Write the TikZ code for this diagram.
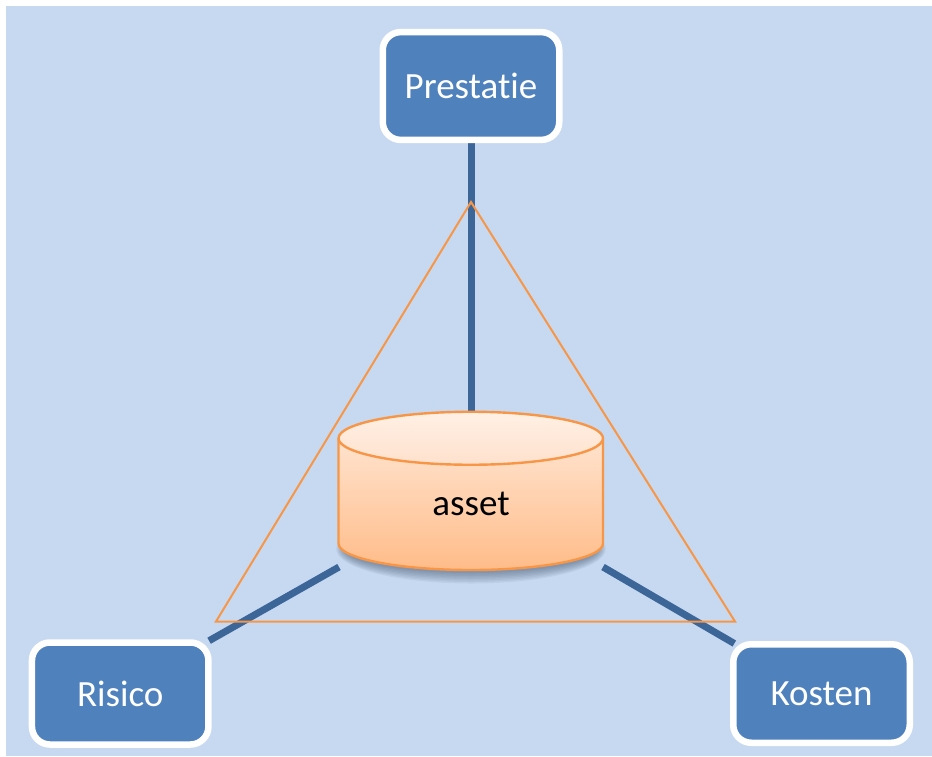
\documentclass[tikz,border=0pt]{standalone}
\usepackage{fontspec}
\usetikzlibrary{backgrounds}
\setmainfont[Ligatures=NoCommon]{Carlito}
\definecolor{bgblue}{HTML}{C6D9F1}
\definecolor{boxblue}{HTML}{4F81BD}
\definecolor{linkblue}{HTML}{3D6698}
\definecolor{edgeorange}{HTML}{F79646}
\definecolor{bodytop}{HTML}{FFE3CE}
\definecolor{bodybottom}{HTML}{FFBC89}
\definecolor{lidtop}{HTML}{FFF0E5}
\definecolor{lidbottom}{HTML}{FFE1CD}
\definecolor{shadowtone}{HTML}{30405A}
\tikzset{
  corner/.style={draw=white,line width=6.5pt,fill=boxblue,rounded corners=18pt,text=white,
    font=\fontsize{37}{44}\selectfont,minimum width=176.5pt,inner sep=0pt},
  link/.style={draw=linkblue,line width=7pt},
  edge/.style={draw=edgeorange,line width=2pt,line join=miter},
  shadowlayer/.style={fill=shadowtone,fill opacity=0.065,draw=none}
}
\begin{document}
\begin{tikzpicture}[x=1pt,y=-1pt]
\useasboundingbox (0,0) rectangle (932,756);
% named points of the cylinder
\coordinate (assettop) at (471,412);
\coordinate (assetleft) at (339,567);
\coordinate (assetright) at (603,567);
% boxes
\node[corner,minimum height=107.8pt] (prestatie) at (471,86) {Prestatie};
\node[corner,minimum height=102pt] (risico) at (120.2,693.5) {Risico};
\node[corner,minimum height=98.5pt] (kosten) at (821.5,693.5) {Kosten};
% background and connectors, under the boxes
\begin{scope}[on background layer]
\fill[bgblue] (6,6) rectangle (932,756);
\draw[link] (prestatie.south) -- (assettop);
\draw[link,shorten >=-3pt] (assetleft) -- (risico.north east);
\draw[link,shorten >=-5pt] (assetright) -- (kosten.north west);
\end{scope}
% triangle
\coordinate (apex) at (471,202);
\coordinate (baseleft) at (216,621.5);
\coordinate (baseright) at (735,621.5);
\draw[edge] (apex) -- (baseleft) -- (baseright) -- cycle;
% cylinder shadow
\foreach \g in {1,...,8}{
  \fill[shadowlayer] (471,549) ellipse [x radius=136-\g*1.2,y radius=36-\g*1.5];
}
% cylinder body
\shade[top color=bodytop,bottom color=bodybottom]
  (338.5,438) -- (338.5,543.5) arc [start angle=180,end angle=0,x radius=132.25,y radius=26.5]
  -- (603,438) arc [start angle=0,end angle=180,x radius=132.25,y radius=26.5] -- cycle;
\draw[edge,line width=2.4pt]
  (338.5,438) -- (338.5,543.5) arc [start angle=180,end angle=0,x radius=132.25,y radius=26.5]
  -- (603,438);
\shade[top color=lidtop,bottom color=lidbottom]
  (470.75,438.25) ellipse [x radius=132.25,y radius=26.5];
\draw[edge,line width=2.4pt] (470.75,438.25) ellipse [x radius=132.25,y radius=26.5];
\node[font=\fontsize{37}{44}\selectfont,text=black,inner sep=0pt] (asset) at (471,504) {asset};
\end{tikzpicture}
\end{document}
